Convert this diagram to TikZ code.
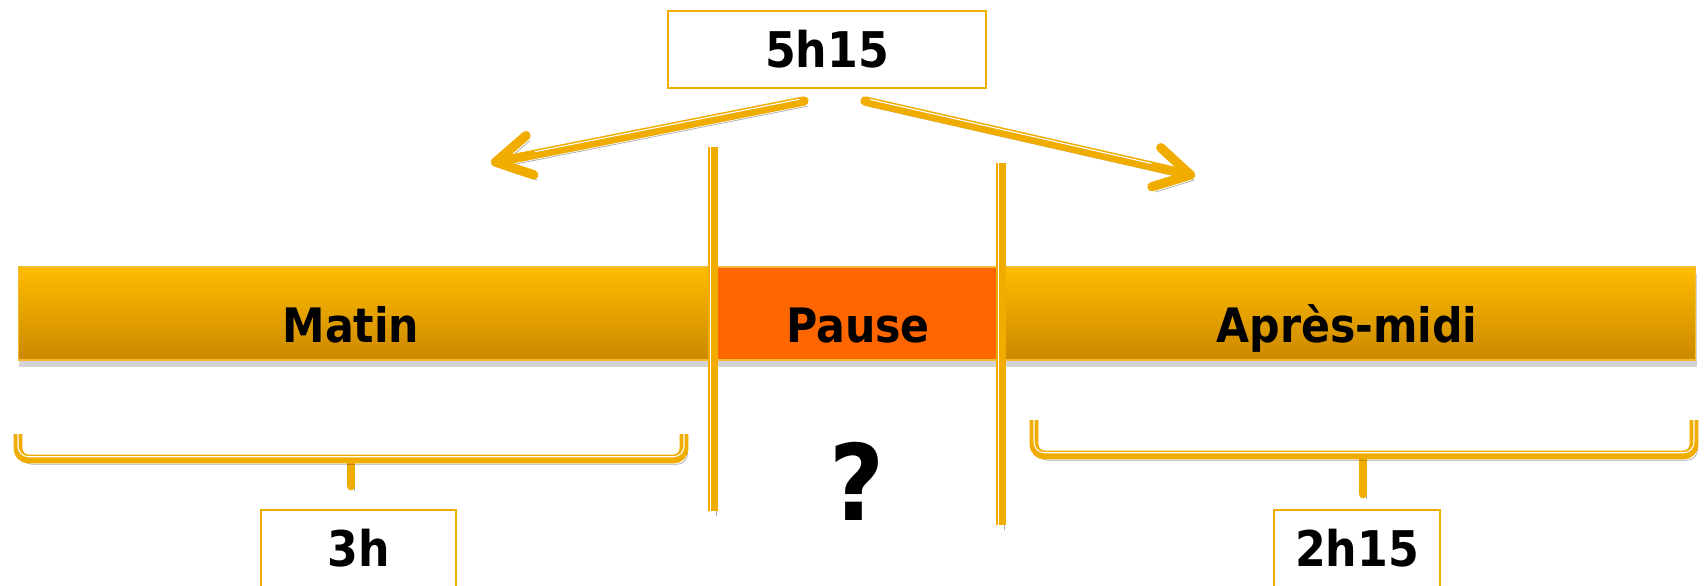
\documentclass[tikz,border=0pt]{standalone}
\usepackage{fontspec}
\newfontfamily\lblfont{DejaVu Sans Condensed Bold}
\usetikzlibrary{arrows.meta}
\usetikzlibrary{shadows}

\definecolor{barTop}{HTML}{FEBC00}
\definecolor{barBot}{HTML}{CC8800}
\definecolor{pauseOr}{HTML}{FF6600}
\definecolor{lineOr}{HTML}{F0AD00}

\begin{document}
\begin{tikzpicture}[x=0.02cm,y=-0.02cm]
    \tikzstyle{segment}    = [draw=lineOr!80, line width=0.6pt, minimum height=1.86cm, inner sep=0pt,
                              drop shadow={shadow xshift=0.5pt, shadow yshift=-4pt, opacity=.35}]
    \tikzstyle{day part}   = [segment, top color=barTop, bottom color=barBot]
    \tikzstyle{pause part} = [segment, fill=pauseOr]
    \tikzstyle{bar text}   = [font=\lblfont\fontsize{27}{30}\selectfont, anchor=base, inner sep=0pt]
    \tikzstyle{time box}   = [draw=lineOr, line width=1.1pt, fill=white, minimum height=1.54cm,
                              font=\lblfont\fontsize{28}{32}\selectfont]

    \tikzstyle{shade}      = [preaction={draw=black, opacity=.33, transform canvas={xshift=2pt,yshift=-3pt}}]
    \tikzstyle{divider}    = [shade, draw=lineOr, line width=6pt,
                              postaction={draw=white, line width=0.8pt, transform canvas={xshift=-1.5pt}}]
    \tikzstyle{brace tip}  = [shade, draw=lineOr, line width=5pt, line cap=round]
    \tikzstyle{brace line} = [brace tip, line cap=butt,
                              postaction={draw=white, line width=0.6pt, transform canvas={yshift=1.3pt}}]
    \tikzstyle{time arrow} = [shade, draw=lineOr, line width=5.3pt, line cap=round,
                              -{Straight Barb[length=0.7cm, width=0.8cm, round]},
                              postaction={draw=white, line width=0.6pt, -, shorten >=0.9cm, shorten <=3pt,
                                          transform canvas={yshift=1.5pt}}]

    \useasboundingbox (0,0) rectangle (1704,585);

    % the day
    \node[day part, minimum width=13.94cm]  (matin) at (366.5,313.5) {};
    \node[pause part, minimum width=5.7cm]  (pause) at (857.5,313.5) {};
    \node[day part, minimum width=13.92cm]  (aprem) at (1348,313.5)  {};

    \node[bar text] (lmatin) at (351,342)  {Matin};
    \node[bar text] (lpause) at (858,342)  {Pause};
    \node[bar text] (laprem) at (1347,342) {Après-midi};

    % dividers around the pause
    \coordinate (d1top) at (713,147);
    \coordinate (d1bot) at (713,511);
    \coordinate (d2top) at (1001,163);
    \coordinate (d2bot) at (1001,525);
    \draw[divider] (d1top) -- (d1bot);
    \draw[divider] (d2top) -- (d2bot);

    % braces
    \draw[brace tip]                       (351,462) -- (351,486);
    \draw[brace line, rounded corners=6pt] (18,434) -- (18,459) -- (684,459) -- (684,434);
    \draw[brace tip]                       (1363,458) -- (1363,494);
    \draw[brace line, rounded corners=6pt] (1034,420) -- (1034,455) -- (1694,455) -- (1694,420);

    % times
    \node[time box, minimum width=6.36cm] (total)  at (827,49.5)   {5h15};
    \node[time box, minimum width=3.9cm]  (matinh) at (358.5,548.5) {3h};
    \node[time box, minimum width=3.32cm] (apremh) at (1357,548.5)  {2h15};

    \node[font=\lblfont\fontsize{60}{60}\selectfont, anchor=base, inner sep=0pt] (unknown) at (857,520) {?};

    % split of the total
    \coordinate (lstart) at (804,101);
    \coordinate (lend)   at (491,163);
    \coordinate (rstart) at (865,101);
    \coordinate (rend)   at (1195,176);
    \draw[time arrow] (lstart) -- (lend);
    \draw[time arrow] (rstart) -- (rend);
\end{tikzpicture}
\end{document}
